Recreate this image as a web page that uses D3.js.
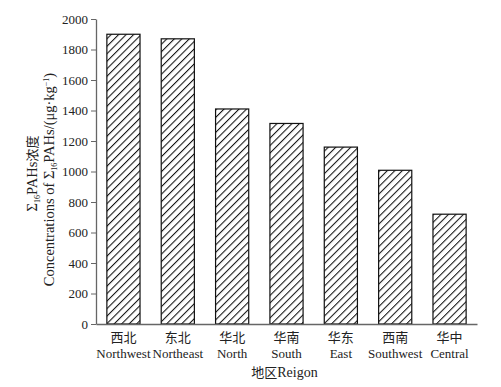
<!DOCTYPE html>
<html>
<head>
<meta charset="utf-8">
<script src="https://cdn.jsdelivr.net/npm/d3@7"></script>
<style>
  body { margin: 0; background: #fff; }
  text { font-family: "Liberation Serif", "Times New Roman", serif; fill: #222; }
  .cn { font-family: "Noto Sans CJK SC", sans-serif; }
</style>
</head>
<body>
<div id="chart"></div>
<script>
const regionsCn = ['西北', '东北', '华北', '华南', '华东', '西南', '华中'];
const regionsEn = ['Northwest', 'Northeast', 'North', 'South', 'East', 'Southwest', 'Central'];
const pahValues = [1900, 1870, 1410, 1315, 1160, 1008, 720];
const yTicks = [0, 200, 400, 600, 800, 1000, 1200, 1400, 1600, 1800, 2000];

const width = 501, height = 387;
const margin = { top: 19, right: 24, bottom: 63, left: 96 };
const innerW = width - margin.left - margin.right;
const innerH = height - margin.top - margin.bottom;

const svg = d3.select('#chart').append('svg')
  .attr('width', width)
  .attr('height', height);

// hatch pattern
const defs = svg.append('defs');
const pat = defs.append('pattern')
  .attr('id', 'hatch')
  .attr('patternUnits', 'userSpaceOnUse')
  .attr('width', 5.3).attr('height', 6)
  .attr('patternTransform', 'rotate(45)');
pat.append('rect').attr('width', 5.3).attr('height', 6).attr('fill', '#fff');
pat.append('line')
  .attr('x1', 0.5).attr('y1', 0).attr('x2', 0.5).attr('y2', 6)
  .attr('stroke', '#111').attr('stroke-width', 1.1);

const g = svg.append('g').attr('transform', 'translate(' + margin.left + ',' + margin.top + ')');

const x = d3.scaleBand().domain(regionsEn).range([0, innerW]).paddingInner(0.39).paddingOuter(0.2);
const y = d3.scaleLinear().domain([0, 2000]).range([innerH, 0]);

// bars
g.selectAll('.bar')
  .data(pahValues)
  .enter()
  .append('rect')
  .attr('x', (d, i) => x(regionsEn[i]))
  .attr('y', d => y(d))
  .attr('width', x.bandwidth())
  .attr('height', d => innerH - y(d))
  .attr('fill', 'url(#hatch)')
  .attr('stroke', '#111')
  .attr('stroke-width', 1.2);

/* Y axis */
const yAxis = g.append('g')
  .call(d3.axisLeft(y).tickValues(yTicks).tickSize(5).tickSizeOuter(0).tickFormat(d3.format('d')));
yAxis.select('.domain').attr('stroke', '#666').attr('stroke-width', 1.3);
yAxis.selectAll('.tick line').attr('stroke', '#666');
yAxis.selectAll('.tick text').attr('font-size', 13).attr('fill', '#222')
  .style('font-family', '"Liberation Serif", serif').attr('x', -8);

/* X axis */
const xAxis = g.append('g')
  .attr('transform', 'translate(0,' + innerH + ')')
  .call(d3.axisBottom(x).tickSize(0).tickFormat(''));
xAxis.select('.domain').attr('stroke', '#666').attr('stroke-width', 1.3);

// category labels (two lines)
const cat = g.selectAll('.cat')
  .data(regionsEn)
  .enter()
  .append('g')
  .attr('transform', d => 'translate(' + (x(d) + x.bandwidth() / 2) + ',' + innerH + ')');
cat.append('text')
  .attr('class', 'cn')
  .attr('text-anchor', 'middle')
  .attr('y', 18)
  .attr('font-size', 13)
  .text((d, i) => regionsCn[i]);
cat.append('text')
  .attr('text-anchor', 'middle')
  .attr('y', 34)
  .attr('font-size', 13)
  .text(d => d);

// x title
const xt = svg.append('text')
  .attr('x', margin.left + innerW / 2 - 2)
  .attr('y', 377)
  .attr('text-anchor', 'middle')
  .attr('font-size', 14);
xt.append('tspan').attr('class', 'cn').attr('font-size', 13).text('地区');
xt.append('tspan').text('Reigon');

// y title, two rotated lines
const yt1 = svg.append('text')
  .attr('transform', 'translate(37,' + (margin.top + innerH / 2 + 2) + ') rotate(-90)')
  .attr('text-anchor', 'middle')
  .attr('font-size', 14.5);
yt1.append('tspan').text('Σ');
yt1.append('tspan').attr('font-size', 8).attr('dy', 3).text('16');
yt1.append('tspan').attr('dy', -3).text('PAHs');
yt1.append('tspan').attr('class', 'cn').attr('font-size', 13).text('浓度');

const yt2 = svg.append('text')
  .attr('transform', 'translate(54,' + (margin.top + innerH / 2 + 8) + ') rotate(-90)')
  .attr('text-anchor', 'middle')
  .attr('font-size', 14.5);
yt2.append('tspan').text('Concentrations of Σ');
yt2.append('tspan').attr('font-size', 8).attr('dy', 3).text('16');
yt2.append('tspan').attr('dy', -3).text('PAHs/(μg·kg');
yt2.append('tspan').attr('font-size', 8).attr('dy', -5).text('−1');
yt2.append('tspan').attr('dy', 5).text(')');
</script>
</body>
</html>
